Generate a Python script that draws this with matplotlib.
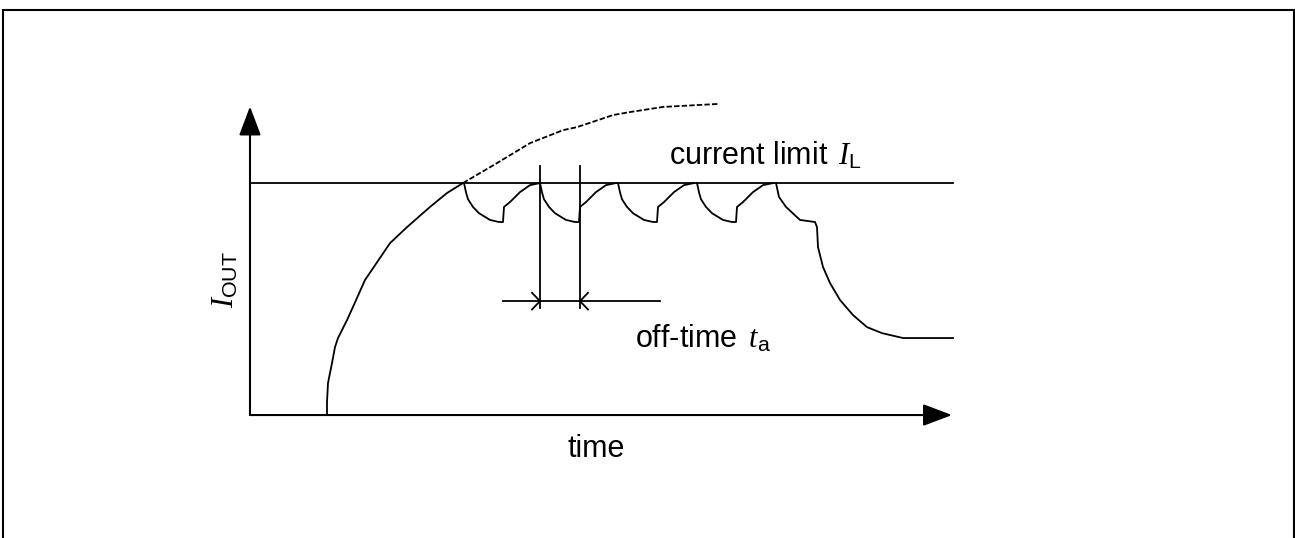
import matplotlib.pyplot as plt
from matplotlib.patches import Rectangle

plt.rcParams["font.family"] = "Liberation Sans"
plt.rcParams["mathtext.fontset"] = "custom"
plt.rcParams["mathtext.rm"] = "Liberation Sans"
plt.rcParams["mathtext.it"] = "Liberation Serif:italic"

# current in units of the limit I_L, time in arbitrary units
current_limit = 1.0
t_axis_end = 7.02
i_axis_end = 1.33
t_end = 7.03

# charging curve below the limit (solid)
rise_t = [0.77, 0.77, 0.78, 0.82, 0.85, 0.88, 0.97, 1.03, 1.15, 1.40, 1.57,
          1.80, 1.97, 2.13]
rise_i = [0.0, 0.056, 0.138, 0.224, 0.293, 0.332, 0.409, 0.466, 0.582, 0.741,
          0.810, 0.897, 0.957, 1.0]

# unlimited curve above the limit (dashed)
free_t = [2.13, 2.47, 2.80, 3.13, 3.27, 3.63, 3.80, 4.13, 4.68]
free_i = [1.0, 1.086, 1.172, 1.228, 1.241, 1.293, 1.306, 1.328, 1.341]

# one off-time ripple, relative to its start
ripple_dt = [0.0, 0.02, 0.04, 0.09, 0.15, 0.26, 0.35, 0.39, 0.40, 0.46, 0.56, 0.66, 0.76]
ripple_i = [1.0, 0.96, 0.93, 0.897, 0.87, 0.841, 0.832, 0.832, 0.897, 0.918, 0.961, 0.991, 1.0]
ripple_starts = [2.14, 2.90, 3.68, 4.47]

# last ripple falling to the final level
fall_t = [5.26, 5.29, 5.36, 5.50, 5.65, 5.67, 5.68, 5.73, 5.80, 5.90, 6.03, 6.17,
          6.32, 6.53, 7.03]
fall_i = [1.0, 0.940, 0.897, 0.841, 0.832, 0.810, 0.724, 0.638, 0.569, 0.496,
          0.431, 0.379, 0.353, 0.332, 0.332]

# off-time dimension
off_t = [2.90, 3.30]
off_top, off_bottom = 1.073, 0.461
dim_i = 0.491
dim_t = [2.53, 4.10]

fig = plt.figure(figsize=(12.95, 5.38), dpi=100)
ax = fig.add_axes([0, 0, 1, 1])
ax.set_xlim(-2.5, 10.45)
ax.set_ylim(-0.530, 1.789)
ax.axis("off")

lw = 1.3
k = "black"

# frame around the figure (bottom cut off)
ax.add_patch(Rectangle((3 / 1295, -0.05), 1291 / 1295, 1.05 - 10 / 538,
                       transform=ax.transAxes, fill=False, lw=1.5,
                       edgecolor=k, clip_on=False))

# axes with arrows
arrow = dict(arrowstyle="-|>,head_length=0.9,head_width=0.34",
             mutation_scale=20, lw=1.5, color=k, shrinkA=0, shrinkB=0)
ax.annotate("", xy=(0, i_axis_end), xytext=(0, 0), arrowprops=arrow)
ax.annotate("", xy=(t_axis_end, 0), xytext=(0, 0), arrowprops=arrow)

# current limit
ax.plot([0, t_end], [current_limit, current_limit], color=k, lw=lw)

ax.plot(rise_t, rise_i, color=k, lw=lw)
ax.plot(free_t, free_i, color=k, lw=lw, dashes=(3.0, 1.2))

for t0 in ripple_starts:
    ax.plot([t0 + d for d in ripple_dt], ripple_i, color=k, lw=lw)
ax.plot(fall_t, fall_i, color=k, lw=lw)

# off-time markers
for t in off_t:
    ax.plot([t, t], [off_bottom, off_top], color=k, lw=lw)
ax.plot(dim_t, [dim_i, dim_i], color=k, lw=lw)
ax.plot([off_t[0] - 0.08, off_t[0], off_t[0] - 0.08],
        [dim_i + 0.036, dim_i, dim_i - 0.036], color=k, lw=lw)
ax.plot([off_t[1] + 0.08, off_t[1], off_t[1] + 0.08],
        [dim_i + 0.036, dim_i, dim_i - 0.036], color=k, lw=lw)

fs = 22
ax.text(4.19, 1.078, r"current limit $\,I_\mathrm{L}$", fontsize=fs,
        ha="left", va="baseline")
ax.text(3.85, 0.293, r"off-time $\,t_\mathrm{a}$", fontsize=fs,
        ha="left", va="baseline")
ax.text(3.46, -0.181, "time", fontsize=fs, ha="center", va="baseline")
ax.text(-0.24, 0.586, r"$I_\mathrm{OUT}$", fontsize=fs, rotation=90,
        ha="center", va="center")

fig.savefig("out.png", dpi=100)
